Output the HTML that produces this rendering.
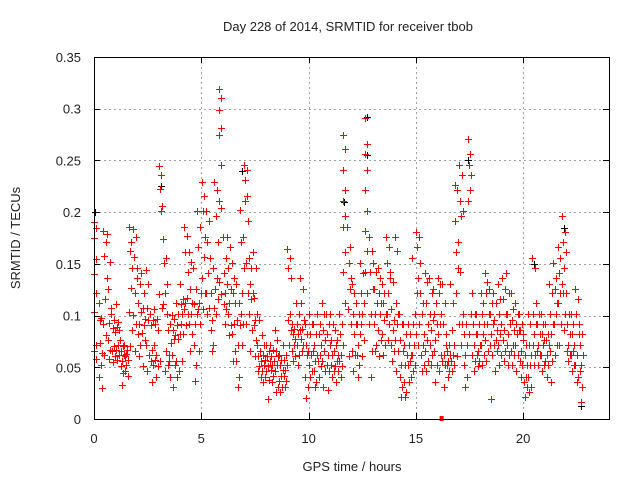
<!DOCTYPE html>
<html><head><meta charset="utf-8"><style>
html,body{margin:0;padding:0;background:#fff;}
svg text{font-family:"Liberation Sans",sans-serif;font-size:13px;fill:#222;}
</style></head><body>
<svg id="chart" width="640" height="480" viewBox="0 0 640 480" xmlns="http://www.w3.org/2000/svg">
<rect width="640" height="480" fill="#fff"/>
<text x="348" y="31" text-anchor="middle">Day 228 of 2014, SRMTID for receiver tbob</text>
<text x="352" y="471" text-anchor="middle">GPS time / hours</text>
<text transform="translate(20,238) rotate(-90)" text-anchor="middle">SRMTID / TECUs</text>
<g id="grid"></g>
<g id="marks"></g>
<g id="axes"></g>
</svg>
<script>
const xTickLabels = ["0","5","10","15","20"];
const xTickValues = [0,5,10,15,20];
const yTickLabels = ["0","0.05","0.1","0.15","0.2","0.25","0.3","0.35"];
const yTickValues = [0,0.05,0.1,0.15,0.2,0.25,0.3,0.35];
const binHours = 0.2;
// red series: values (thousandths of TECU) per 0.2-hour bin starting at 0 h
const redBins = [
[190,185,175,155,140,122,103,72,66,58],
[112,98,73,64,52,41,30,96],
[182,171,158,136,116,92,81,62],
[179,152,126,107,93,76,67,58],
[102,96,88,84,71,66,61,55],
[111,94,89,86,72,67,62,57],
[76,71,66,62,56,51,44,33],
[72,67,61,57,52,46,42,63],
[186,171,162,146,127,103,86,71],
[184,176,157,136,122,101,92,66],
[146,131,112,103,92,82,72,61],
[141,122,107,97,91,83,76,51],
[144,131,107,102,96,72,62,46],
[102,96,91,72,67,56,52,36],
[106,97,92,86,62,57,51,41],
[245,236,222,206,201,121,107,56],
[174,156,151,131,122,111,66,46],
[102,92,86,73,62,52,41,56],
[101,97,86,81,77,62,52,31],
[112,102,91,82,77,56,46,41],
[131,116,111,106,102,92,82,56],
[186,177,161,142,117,112,102,91],
[161,152,126,112,102,92,82,66],
[146,126,111,102,92,72,52,37],
[201,186,166,122,112,106,92,66],
[229,216,201,176,157,136,122,106],
[201,191,171,156,141,122,107,102],
[156,146,122,107,96,86,72,66],
[229,221,196,171,136,126,116,102],
[319,310,299,281,275,246,211,204,132,121],
[176,156,141,131,122,111,106,92],
[176,166,146,126,112,102,91,81],
[151,136,122,112,92,82,66,56],
[131,112,96,91,72,56,41,31],
[202,176,171,146,122,102,92,72],
[246,241,231,216,211,191,151,122,92],
[156,146,131,122,116,102,86,66],
[161,146,117,102,96,91,76,61],
[72,66,61,56,51,46,41,96],
[81,72,62,57,52,46,41,36],
[72,66,61,56,51,46,38,19],
[72,67,61,56,52,47,42,36],
[86,76,66,61,52,46,31,26],
[62,57,52,47,42,37,31,26],
[72,62,57,52,47,42,37,31],
[164,156,146,136,102,96,86,72],
[92,87,82,77,72,66,61,56],
[112,102,92,86,82,72,62,52],
[136,126,112,96,87,77,72,66],
[92,82,72,66,62,41,31,20],
[102,92,82,66,62,52,46,41],
[92,82,72,62,56,46,36,31],
[102,92,82,72,62,56,51,41],
[112,102,86,76,66,56,46,31],
[102,92,82,72,62,52,46,28],
[102,92,76,66,62,52,46,41],
[86,76,72,62,56,51,46,36],
[102,92,82,72,62,56,51,41],
[275,261,241,221,211,196,186,161,142,112],
[186,166,151,136,126,106,92,61],
[131,122,102,92,82,66,62,46],
[112,102,92,82,72,62,52,41],
[151,141,122,112,102,92,76,61],
[291,266,256,241,221,201,182,162,142,122],
[176,162,142,126,102,92,66,41],
[151,142,126,112,102,92,72,66],
[146,136,122,112,102,86,76,61],
[131,122,112,102,96,82,72,62],
[176,166,151,136,122,102,92,76],
[142,132,106,96,86,72,66,56],
[176,162,112,102,92,76,66,46],
[102,92,76,66,52,41,31,21],
[92,82,72,62,52,36,26,21],
[92,82,72,62,56,52,41,36],
[156,102,92,82,72,62,52,46],
[181,176,166,151,136,122,92,72],
[122,112,102,82,72,62,52,46],
[141,132,112,92,76,66,56,46],
[136,122,102,96,86,72,62,52],
[126,112,102,92,76,66,52,36],
[136,131,122,102,92,82,62,46],
[131,112,92,72,62,56,52,31],
[82,72,66,62,56,52,46,41],
[131,112,86,72,62,56,52,46],
[226,221,191,171,161,146,122,92,61],
[246,236,211,201,196,142,92,72],
[102,92,82,72,62,52,41,31],
[271,256,246,236,221,211,102,82],
[122,102,92,82,72,62,56,46],
[102,92,82,72,66,62,56,51],
[122,112,102,92,82,72,62,52],
[141,132,122,102,92,76,66,56],
[126,112,102,92,82,72,62,19],
[122,112,96,86,76,72,66,46],
[131,116,102,92,82,72,62,52],
[136,126,116,102,86,76,66,56],
[141,122,102,92,82,72,62,52],
[122,106,96,86,72,66,62,52],
[112,102,92,86,82,72,62,46],
[102,92,86,76,66,56,52,41],
[82,72,62,52,41,36,31,21],
[102,92,72,62,52,41,31,26],
[156,146,102,92,82,72,62,52],
[112,102,92,82,72,66,62,52],
[102,92,82,76,72,62,52,46],
[92,82,76,72,62,56,52,41],
[131,122,102,92,82,66,56,36],
[151,136,126,112,102,92,72,62],
[166,156,141,131,122,112,92,72],
[196,181,171,161,146,122,102,86],
[122,102,92,82,72,66,62,56],
[102,92,82,72,66,62,52,46],
[126,116,102,82,62,52,41,36],
[92,82,72,62,52,46,31,16]
];
// black series: individual points (hours, TECU)
const blackHours = [0.05,3.1,6.9,11.65,12.7,12.72,17.45,20.5,21.9,22.7];
const blackValues = [0.2,0.225,0.24,0.21,0.292,0.255,0.25,0.15,0.185,0.013];
// special marker at zero
const zeroMarkHours = [16.2];

const X0=94, X1=609, Y0=419, Y1=57;
const xMax=24, yMax=0.35;
function sx(h){return X0+(h/xMax)*(X1-X0);}
function sy(v){return Y0-(v/yMax)*(Y0-Y1);}
const NS="http://www.w3.org/2000/svg";
const grid=document.getElementById('grid');
const marks=document.getElementById('marks');
const axes=document.getElementById('axes');
function mk(tag,attrs,parent){const e=document.createElementNS(NS,tag);for(const k in attrs)e.setAttribute(k,attrs[k]);parent.appendChild(e);return e;}

xTickValues.forEach((v,i)=>{
  const x=Math.round(sx(v))+0.5;
  if(v>0){const g=mk('line',{x1:x,y1:Y1,x2:x,y2:Y0,stroke:'#a0a0a0','stroke-dasharray':'2,3'},grid);
  
  }
  const t=mk('line',{x1:x,y1:Y0,x2:x,y2:Y0-6,stroke:'#000'},axes);
  
  
  const t2=mk('line',{x1:x,y1:Y1,x2:x,y2:Y1+6,stroke:'#000'},axes);
  
  
  const l=mk('text',{x:sx(v),y:443,'text-anchor':'middle'},axes);
  l.textContent=xTickLabels[i];
  
  
});
yTickValues.forEach((v,i)=>{
  const y=Math.round(sy(v))+0.5;
  if(v>0&&v<yMax){const g=mk('line',{x1:X0,y1:y,x2:X1,y2:y,stroke:'#a0a0a0','stroke-dasharray':'2,3'},grid);
  
  }
  const t=mk('line',{x1:X0,y1:y,x2:X0+6,y2:y,stroke:'#000'},axes);
  
  
  const t2=mk('line',{x1:X1,y1:y,x2:X1-6,y2:y,stroke:'#000'},axes);
  
  
  const l=mk('text',{x:81,y:sy(v)+5,'text-anchor':'end'},axes);
  l.textContent=yTickLabels[i];
  
  
});
const frame=mk('rect',{x:X0+0.5,y:Y1+0.5,width:X1-X0,height:Y0-Y1,fill:'none',stroke:'#000'},axes);



function plus(x,y,color,name){
  const px=Math.round(x)+0.5, py=Math.round(y)+0.5;
  const p=mk('path',{d:`M${px-3.5} ${py}H${px+3.5}M${px} ${py-3.5}V${py+3.5}`,stroke:color,'stroke-width':1,fill:'none','shape-rendering':'crispEdges'},marks);
  
  
}
blackHours.forEach((h,i)=>plus(sx(h),sy(blackValues[i]),'#000','black-point'));
redBins.forEach((bin,b)=>{
  bin.forEach((v,k)=>{
    const h=b*binHours+((k*5)%bin.length+0.5)/bin.length*binHours;
    plus(sx(h),sy(v/1000),'#ff0000','red-point');
  });
});
zeroMarkHours.forEach(h=>{
  const r=mk('rect',{x:sx(h)-2,y:Y0-3,width:4,height:5,fill:'#ff0000'},marks);
  
  
});
</script>
</body></html>
